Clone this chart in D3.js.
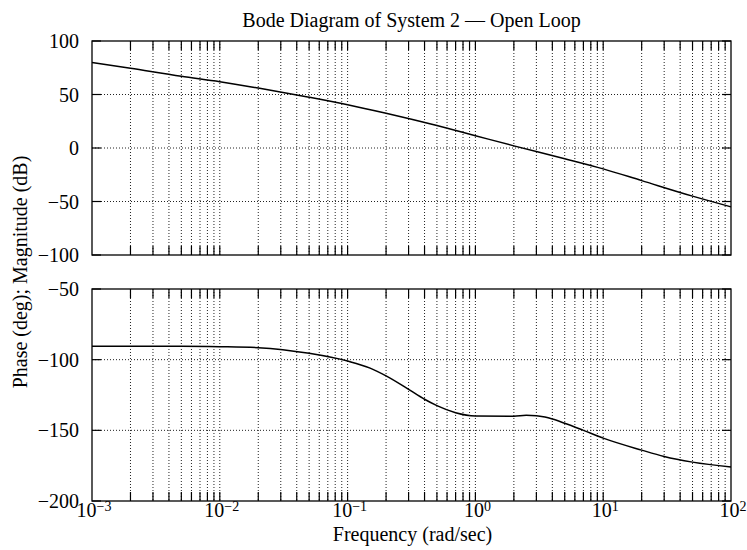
<!DOCTYPE html>
<html>
<head>
<meta charset="utf-8">
<script src="https://cdn.jsdelivr.net/npm/d3@7"></script>
<style>
  body { margin: 0; background: #fff; }
  svg { display: block; }
  text { font-family: "Liberation Serif", "Times New Roman", serif; fill: #000; }
</style>
</head>
<body>
<svg id="chart" width="747" height="550"></svg>
<script>
// ---- data ----
const titleText = "Bode Diagram of System 2 — Open Loop";
const xLabel = "Frequency (rad/sec)";
const yLabel = "Phase (deg); Magnitude (dB)";

const magFreq = [0.001, 0.002, 0.005, 0.01, 0.02, 0.05, 0.1, 0.2, 0.5, 1, 2, 5, 10, 20, 50, 100];
const magDb   = [80, 74.5, 67, 62, 56, 47.5, 40.5, 32.5, 21, 11.5, 2, -10, -19.5, -30.5, -45, -55];

const phaseFreq = [0.001, 0.002, 0.005, 0.01, 0.02, 0.05, 0.1, 0.15, 0.2, 0.3, 0.4, 0.5, 0.7, 1, 2, 2.5, 3, 3.5, 4, 5, 7, 10, 20, 30, 50, 100];
const phaseDeg  = [-90.5, -90.5, -90.5, -90.8, -91.5, -95.5, -101, -106, -111.5, -121, -128, -132.5, -137.5, -139.8, -140, -139.4, -139.6, -140.6, -142, -145, -150, -155.5, -164, -168.5, -172.5, -176];

const xDecades = [1e-3, 1e-2, 1e-1, 1e0, 1e1, 1e2];
const xExponents = ["-3", "-2", "-1", "0", "1", "2"];
const magTicks = [100, 50, 0, -50, -100];
const phaseTicks = [-50, -100, -150, -200];

// ---- layout ----
const svg = d3.select("#chart");
const left = 92, right = 731;
const magTop = 41, magBottom = 255;
const phTop = 289, phBottom = 501;
const tickLen = 9;
const fs = 20;

const x = d3.scaleLog().domain([1e-3, 1e2]).range([left, right]);
const yMag = d3.scaleLinear().domain([-100, 100]).range([magBottom, magTop]);
const yPh = d3.scaleLinear().domain([-200, -50]).range([phBottom, phTop]);

// all tick positions (decades + minors)
const allX = [];
for (let e = -3; e < 2; e++) {
  for (let m = 1; m <= 9; m++) allX.push(m * Math.pow(10, e));
}
allX.push(100);

const fmt = v => v < 0 ? "\u2212" + Math.abs(v) : String(v);

function panel(y, yTicks, top, bottom, showX) {
  const g = svg.append("g");
  const xt = allX.filter(v => v > 1.0001e-3 && v < 0.9999e2);
  // vertical grid
  g.selectAll("line.vg").data(xt).enter()
    .append("line")
    .attr("x1", d => x(d)).attr("x2", d => x(d))
    .attr("y1", top).attr("y2", bottom)
    .attr("stroke", "#222").attr("stroke-width", 1)
    .attr("stroke-dasharray", "1,2");
  // horizontal grid
  g.selectAll("line.hg").data(yTicks.filter(v => y(v) > top + 1 && y(v) < bottom - 1)).enter()
    .append("line")
    .attr("x1", left).attr("x2", right)
    .attr("y1", d => y(d)).attr("y2", d => y(d))
    .attr("stroke", "#222").attr("stroke-width", 1)
    .attr("stroke-dasharray", "1,2");
  // x tick marks (inside, top and bottom)
  g.selectAll("line.xtb").data(xt).enter().append("line")
    .attr("x1", d => x(d)).attr("x2", d => x(d))
    .attr("y1", bottom).attr("y2", bottom - tickLen)
    .attr("stroke", "#000").attr("stroke-width", 1.2);
  g.selectAll("line.xtt").data(xt).enter().append("line")
    .attr("x1", d => x(d)).attr("x2", d => x(d))
    .attr("y1", top).attr("y2", top + tickLen)
    .attr("stroke", "#000").attr("stroke-width", 1.2);
  // y tick marks (inside, left and right)
  g.selectAll("line.ytl").data(yTicks).enter().append("line")
    .attr("x1", left).attr("x2", left + tickLen)
    .attr("y1", d => y(d)).attr("y2", d => y(d))
    .attr("stroke", "#000").attr("stroke-width", 1.2);
  g.selectAll("line.ytr").data(yTicks).enter().append("line")
    .attr("x1", right).attr("x2", right - tickLen)
    .attr("y1", d => y(d)).attr("y2", d => y(d))
    .attr("stroke", "#000").attr("stroke-width", 1.2);
  // frame
  g.append("rect").attr("x", left).attr("y", top)
    .attr("width", right - left).attr("height", bottom - top)
    .attr("fill", "none").attr("stroke", "#000").attr("stroke-width", 1.3);
  // y tick labels
  g.selectAll("text.yl").data(yTicks).enter().append("text")
    .attr("x", left - 13).attr("y", d => y(d))
    .attr("dy", "0.35em").attr("text-anchor", "end")
    .attr("font-size", fs)
    .text(fmt);
  if (showX) {
    const lab = g.selectAll("text.xl").data(xDecades).enter().append("text")
      .attr("x", d => x(d) + 2).attr("y", bottom + 16)
      .attr("text-anchor", "middle").attr("font-size", fs);
    lab.append("tspan").text("10");
    lab.append("tspan").attr("dy", "-0.45em").attr("font-size", 14)
      .text((d, i) => xExponents[i].replace("-", "\u2212"));
  }
  return g;
}

const gMag = panel(yMag, magTicks, magTop, magBottom, false);
const gPh = panel(yPh, phaseTicks, phTop, phBottom, true);

const magLine = d3.line().x(d => x(d[0])).y(d => yMag(d[1])).curve(d3.curveMonotoneX);
const phLine = d3.line().x(d => x(d[0])).y(d => yPh(d[1])).curve(d3.curveMonotoneX);

gMag.append("path").datum(magFreq.map((f, i) => [f, magDb[i]]))
  .attr("d", magLine).attr("fill", "none").attr("stroke", "#000").attr("stroke-width", 1.5);
gPh.append("path").datum(phaseFreq.map((f, i) => [f, phaseDeg[i]]))
  .attr("d", phLine).attr("fill", "none").attr("stroke", "#000").attr("stroke-width", 1.5);

// title and axis labels
svg.append("text").attr("x", (left + right) / 2).attr("y", 27)
  .attr("text-anchor", "middle").attr("font-size", fs).text(titleText);
svg.append("text").attr("x", (left + right) / 2 + 1).attr("y", 541)
  .attr("text-anchor", "middle").attr("font-size", fs).text(xLabel);
svg.append("text")
  .attr("transform", "translate(27," + 272 + ") rotate(-90)")
  .attr("text-anchor", "middle").attr("font-size", fs).text(yLabel);
</script>
</body>
</html>
